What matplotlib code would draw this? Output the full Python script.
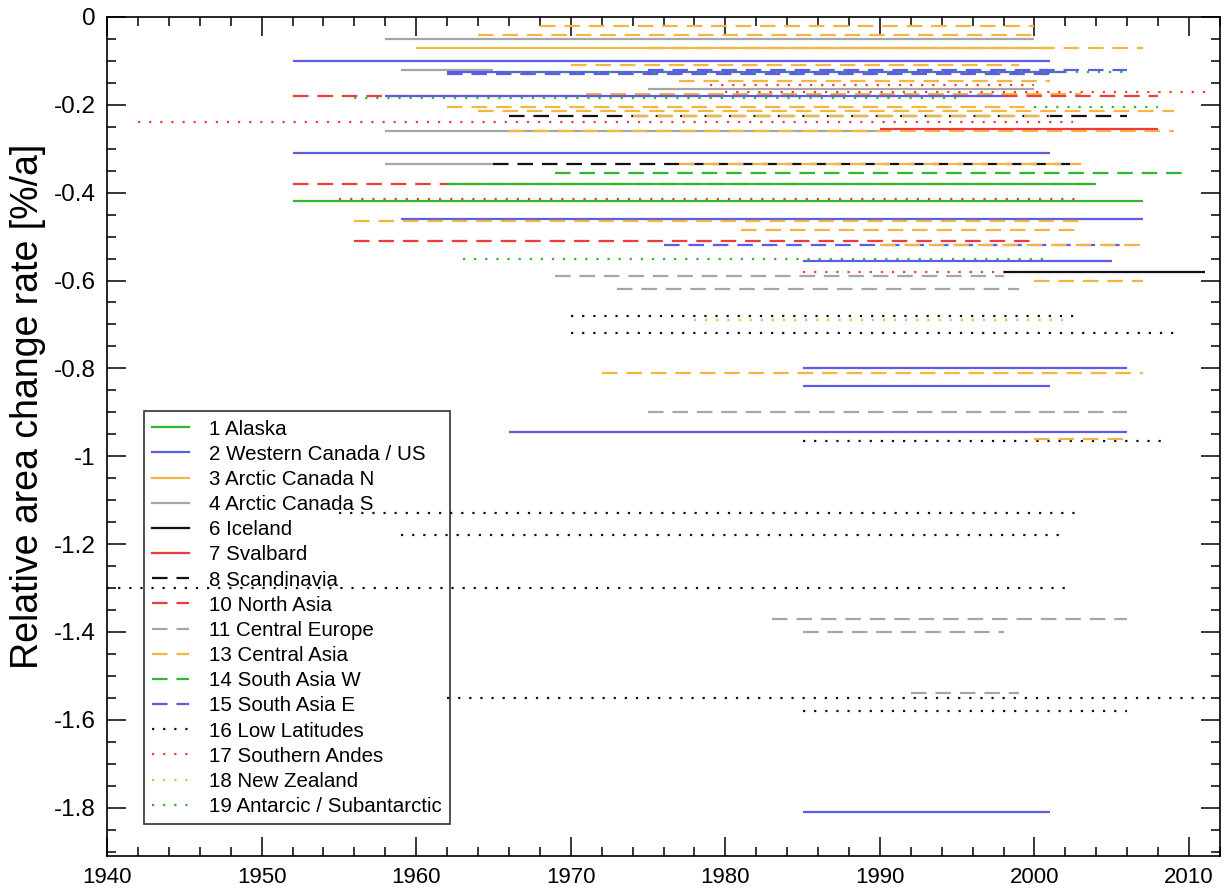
import matplotlib.pyplot as plt
from matplotlib.lines import Line2D

# regions: number, name, colour, line style
region_ids = [1, 2, 3, 4, 6, 7, 8, 10, 11, 13, 14, 15, 16, 17, 18, 19]
region_names = ['1 Alaska', '2 Western Canada / US', '3 Arctic Canada N', '4 Arctic Canada S',
                '6 Iceland', '7 Svalbard', '8 Scandinavia', '10 North Asia', '11 Central Europe',
                '13 Central Asia', '14 South Asia W', '15 South Asia E', '16 Low Latitudes',
                '17 Southern Andes', '18 New Zealand', '19 Antarcic / Subantarctic']
region_colors = ['#2db82d', '#5c5ce6', '#f5b640', '#a6a6a6', '#111111', '#ee3b3b',
                 '#111111', '#ee3b3b', '#a6a6a6', '#f5b640', '#2db82d', '#5c5ce6',
                 '#111111', '#ee3b3b', '#f5b640', '#2db82d']
region_styles = ['solid'] * 6 + ['dashed'] * 6 + ['dotted'] * 4

# segments: region, first year, last year, rate [%/a]
seg_region = [13, 13, 4, 3, 13, 2, 13, 4, 2, 15, 19, 15,
              13, 17, 4, 13, 17, 10, 2, 19, 13, 19, 13, 8, 13, 17, 4, 13, 7,
              2, 4, 8, 13, 14, 10, 1, 17, 1, 2, 13, 13, 10, 15, 13, 19, 2,
              17, 6, 11, 13, 11, 16, 18, 16,
              2, 13, 2, 11, 2, 16, 13,
              16, 16, 16, 11, 11, 11, 16, 16, 2]
seg_start = [1968, 1964, 1958, 1960, 1975, 1952, 1970, 1959, 1962, 1962, 1966, 1975,
             1977, 1979, 1975, 1971, 1980, 1952, 1958, 1956, 1962, 2000, 1964, 1966, 1974, 1942, 1958, 1966, 1990,
             1952, 1958, 1965, 1977, 1969, 1952, 1962, 1955, 1952, 1959, 1956, 1981, 1956, 1976, 1990, 1963, 1985,
             1985, 1998, 1969, 2000, 1973, 1970, 1978, 1970,
             1985, 1972, 1985, 1975, 1966, 1985, 2000,
             1955, 1959, 1940, 1983, 1985, 1992, 1962, 1985, 1985]
seg_end = [2000, 2000, 2000, 2001, 2007, 2001, 1999, 1965, 2002, 2001, 2006, 2006,
           2001, 2000, 2000, 2003, 2011, 2008, 1998, 1995, 2000, 2008, 2009, 2006, 2001, 2002.5, 1990, 2009, 2008,
           2001, 1965, 2002.5, 2003, 2010, 2004, 2004, 2002.7, 2007, 2007, 2003, 2003, 2000, 2006, 2007, 2001, 2005,
           2008, 2011, 1998, 2007, 1999, 2003, 2002, 2009,
           2006, 2007, 2001, 2006, 2006, 2008.5, 2006,
           2003, 2002, 2002, 2006, 1998, 1999, 2011.5, 2006, 2001]
seg_rate = [-0.02, -0.04, -0.05, -0.07, -0.07, -0.10, -0.11, -0.12, -0.125, -0.13, -0.125, -0.12,
            -0.145, -0.155, -0.165, -0.175, -0.17, -0.18, -0.18, -0.185, -0.205, -0.205, -0.215, -0.225, -0.225,
            -0.24, -0.26, -0.26, -0.255,
            -0.31, -0.335, -0.335, -0.335, -0.355, -0.38, -0.38, -0.415, -0.42, -0.46, -0.465, -0.485, -0.51,
            -0.52, -0.52, -0.55, -0.555,
            -0.58, -0.58, -0.59, -0.60, -0.62, -0.68, -0.69, -0.72,
            -0.80, -0.81, -0.84, -0.90, -0.945, -0.965, -0.96,
            -1.13, -1.18, -1.30, -1.37, -1.40, -1.54, -1.55, -1.58, -1.81]

dash_map = {'solid': '-', 'dashed': (0, (7, 4)), 'dotted': (0, (1, 4))}
plt.rcParams['font.family'] = ['Liberation Sans', 'DejaVu Sans']

fig = plt.figure(figsize=(12.26, 8.92), dpi=100)
ax = fig.add_axes([0.0873, 0.0404, 0.9078, 0.9406])

for r, x0, x1, y in zip(seg_region, seg_start, seg_end, seg_rate):
    i = region_ids.index(r)
    ax.plot([x0, x1], [y, y], color=region_colors[i], ls=dash_map[region_styles[i]],
            lw=1.6, solid_capstyle='butt', dash_capstyle='butt')

ax.set_xlim(1940, 2012)
ax.set_ylim(-1.91, 0)
ax.set_xticks(range(1940, 2011, 10))
ax.set_xticks(range(1940, 2013, 2), minor=True)
ax.set_yticks([0, -0.2, -0.4, -0.6, -0.8, -1, -1.2, -1.4, -1.6, -1.8])
ax.set_yticklabels(['0', '-0.2', '-0.4', '-0.6', '-0.8', '-1', '-1.2', '-1.4', '-1.6', '-1.8'])
ax.set_yticks([-0.05 * k for k in range(0, 39)], minor=True)
ax.tick_params(which='both', direction='in', top=True, right=True, width=1.1)
ax.tick_params(which='major', length=13.5)
ax.tick_params(which='minor', length=6.7)
ax.tick_params(axis='x', labelsize=16, pad=8)
ax.tick_params(axis='y', labelsize=17.5, pad=8)
for s in ax.spines.values():
    s.set_linewidth(1.2)
ax.set_ylabel('Relative area change rate [%/a]', fontsize=27)
ax.yaxis.set_label_coords(-0.055, 0.536)

handles = [Line2D([], [], color=c, ls=dash_map[s], lw=1.6)
           for c, s in zip(region_colors, region_styles)]
leg = ax.legend(handles, region_names, loc='upper left', bbox_to_anchor=(0.033, 0.530),
                borderaxespad=0, fontsize=14.8, labelspacing=0.3, handlelength=1.8,
                handletextpad=0.97, fancybox=False, edgecolor='black', facecolor='none',
                borderpad=0.4)
leg.get_frame().set_linewidth(1.2)

fig.savefig('out.png', dpi=100)
